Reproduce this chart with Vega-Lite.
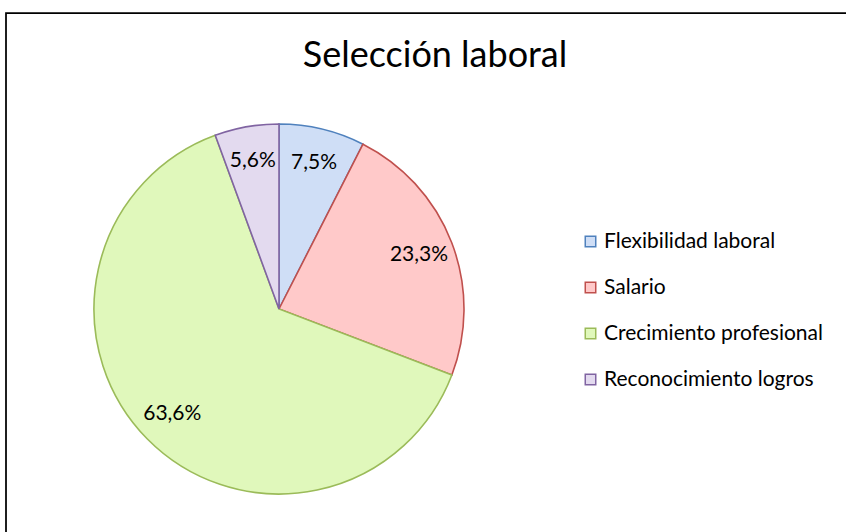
{
  "$schema": "https://vega.github.io/schema/vega-lite/v6.json",
  "autosize": "none",
  "width": 858,
  "height": 540,
  "padding": {"left": 6, "top": 13, "right": 0, "bottom": 0},
  "background": "white",
  "config": {
    "view": {"stroke": "black", "strokeWidth": 1.75},
    "font": "Lato"
  },
  "title": {
    "text": "Selección laboral",
    "fontSize": 36,
    "fontWeight": "normal",
    "font": "Lato",
    "color": "black",
    "anchor": "middle",
    "offset": -62
  },
  "data": {
    "values": [
      {"categoria": "Flexibilidad laboral", "porcentaje": 7.5, "etiqueta": "7,5%", "orden": 1},
      {"categoria": "Salario", "porcentaje": 23.3, "etiqueta": "23,3%", "orden": 2},
      {"categoria": "Crecimiento profesional", "porcentaje": 63.6, "etiqueta": "63,6%", "orden": 3},
      {"categoria": "Reconocimiento logros", "porcentaje": 5.6, "etiqueta": "5,6%", "orden": 4}
    ]
  },
  "encoding": {
    "theta": {"field": "porcentaje", "type": "quantitative", "stack": true},
    "order": {"field": "orden", "type": "quantitative"},
    "x": {"datum": 273, "type": "quantitative", "scale": {"domain": [0, 858], "range": "width"}, "axis": null},
    "y": {"datum": 296, "type": "quantitative", "scale": {"domain": [0, 540], "range": [0, 540]}, "axis": null}
  },
  "layer": [
    {
      "mark": {"type": "arc", "outerRadius": 185, "strokeWidth": 1.6},
      "encoding": {
        "fill": {
          "field": "categoria",
          "type": "nominal",
          "sort": ["Flexibilidad laboral", "Salario", "Crecimiento profesional", "Reconocimiento logros"],
          "scale": {
            "domain": ["Flexibilidad laboral", "Salario", "Crecimiento profesional", "Reconocimiento logros"],
            "range": ["#cfdef6", "#ffc9c9", "#e0f8bb", "#e3daef"]
          },
          "legend": {
            "title": null,
            "orient": "none",
            "legendX": 574,
            "legendY": 218,
            "symbolType": "square",
            "symbolSize": 110,
            "symbolStrokeWidth": 1.5,
            "labelFontSize": 21,
            "labelFont": "Lato",
            "labelColor": "black",
            "rowPadding": 24,
            "labelOffset": 3,
            "labelLimit": 400
          }
        },
        "stroke": {
          "field": "categoria",
          "type": "nominal",
          "scale": {
            "domain": ["Flexibilidad laboral", "Salario", "Crecimiento profesional", "Reconocimiento logros"],
            "range": ["#4f81bd", "#c0504d", "#9bbb59", "#8064a2"]
          },
          "legend": null
        }
      }
    },
    {
      "mark": {"type": "text", "radius": 150, "fontSize": 21, "font": "Lato", "color": "black"},
      "encoding": {
        "text": {"field": "etiqueta", "type": "nominal"}
      }
    }
  ]
}
